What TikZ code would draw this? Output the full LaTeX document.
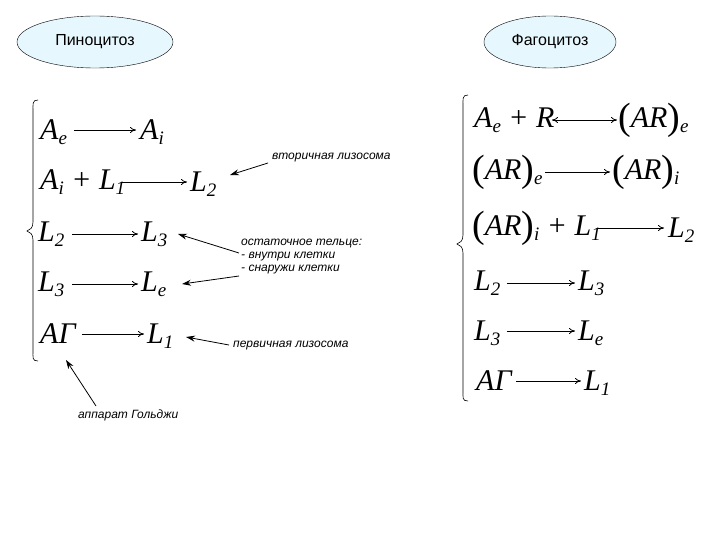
\documentclass[tikz,border=0pt]{standalone}
\usepackage{fontspec}
\setmainfont{Liberation Serif}
\newfontfamily\lab{Liberation Sans}
\usetikzlibrary{shapes.geometric,arrows.meta}
\newcommand{\sbs}[1]{\raisebox{-5pt}{\fontsize{19}{20}\selectfont\itshape #1}}
\newcommand{\bp}[1]{\raisebox{-2pt}{\fontsize{38}{38}\selectfont\upshape(}#1\raisebox{-2pt}{\fontsize{38}{38}\selectfont\upshape)}}
\begin{document}
\begin{tikzpicture}[x=1pt,y=-1pt,
 f/.style={font=\fontsize{30}{32}\selectfont\itshape,anchor=west,inner sep=0pt},
 r/.style={-{To[length=6pt,width=6pt]},line width=0.8pt},
 rr/.style={{To[length=6pt,width=6pt]}-{To[length=6pt,width=6pt]},line width=0.8pt},
 l/.style={font=\lab\itshape\fontsize{12}{13}\selectfont,anchor=west,align=left,inner sep=0pt},
 la/.style={-{Stealth[length=9pt,width=6pt]},line width=0.8pt},
 ell/.style={ellipse,draw,fill=cyan!10,font=\lab\fontsize{16}{18}\selectfont,inner sep=0pt}]
\useasboundingbox[fill=white](0,0) rectangle (720,540);
\node[ell,minimum width=156pt,minimum height=52pt] (p) at (95,42) {Пиноцитоз};
\node[ell,minimum width=132pt,minimum height=52pt] (g) at (550,42) {Фагоцитоз};
\draw[line width=0.6pt] (38,100) .. controls (32,100) and (33,104) .. (33,112) -- (33,222) .. controls (33,228) and (30,230) .. (27,231) .. controls (30,232) and (33,234) .. (33,240) -- (33,350) .. controls (33,358) and (32,361) .. (38,361);
\draw[line width=0.6pt] (468,95) .. controls (462,95) and (463,99) .. (463,107) -- (463,235) .. controls (463,241) and (460,243) .. (457,244) .. controls (460,245) and (463,247) .. (463,253) -- (463,390) .. controls (463,398) and (462,401) .. (468,401);
% left
\node[f] (a1) at (40,132) {A\sbs{e}};
\node[f] (a2) at (140,132) {A\sbs{i}};
\draw[r] (74,130) -- (136,130);
\node[f] (b1) at (40,182) {A\sbs{i} + L\sbs{1}};
\node[f] (b2) at (190,184) {L\sbs{2}};
\draw[r] (121,182) -- (187,182);
\node[f] (c1) at (38,234) {L\sbs{2}};
\node[f] (c2) at (141,234) {L\sbs{3}};
\draw[r] (72,234) -- (138,234);
\node[f] (d1) at (38,284) {L\sbs{3}};
\node[f] (d2) at (141,284) {L\sbs{e}};
\draw[r] (72,284) -- (138,284);
\node[f] (e1) at (40,334) {АГ};
\node[f] (e2) at (147,336) {L\sbs{1}};
\draw[r] (82,334) -- (144,334);
% labels
\node[l] (t1) at (272,158) {вторичная лизосома};
\node[l] (t2) at (241,257) {остаточное тельце:\\- внутри клетки\\- снаружи клетки};
\node[l] (t3) at (233,346) {первичная лизосома};
\node[l] (t4) at (78,415) {аппарат Гольджи};
\draw[la] (268,163) -- (230,175);
\draw[la] (239,253) -- (178,234);
\draw[la] (239,276) -- (182,284);
\draw[la] (229,345) -- (186,337);
\draw[la] (96,406) -- (66,360);
% right
\node[f] (ra1) at (474,120) {A\sbs{e} + R};
\node[f] (ra2) at (618,120) {\bp{AR}\sbs{e}};
\draw[rr] (552,120) -- (617,120);
\node[f] (rb1) at (472,172) {\bp{AR}\sbs{e}};
\node[f] (rb2) at (612,172) {\bp{AR}\sbs{i}};
\draw[r] (545,172) -- (610,172);
\node[f] (rc1) at (472,228) {\bp{AR}\sbs{i} + L\sbs{1}};
\node[f] (rc2) at (668,230) {L\sbs{2}};
\draw[r] (597,228) -- (664,228);
\node[f] (rd1) at (474,283) {L\sbs{2}};
\node[f] (rd2) at (578,283) {L\sbs{3}};
\draw[r] (507,283) -- (575,283);
\node[f] (re1) at (474,333) {L\sbs{3}};
\node[f] (re2) at (578,333) {L\sbs{e}};
\draw[r] (507,331) -- (575,331);
\node[f] (rf1) at (476,381) {АГ};
\node[f] (rf2) at (584,383) {L\sbs{1}};
\draw[r] (516,381) -- (581,381);
\end{tikzpicture}
\end{document}
